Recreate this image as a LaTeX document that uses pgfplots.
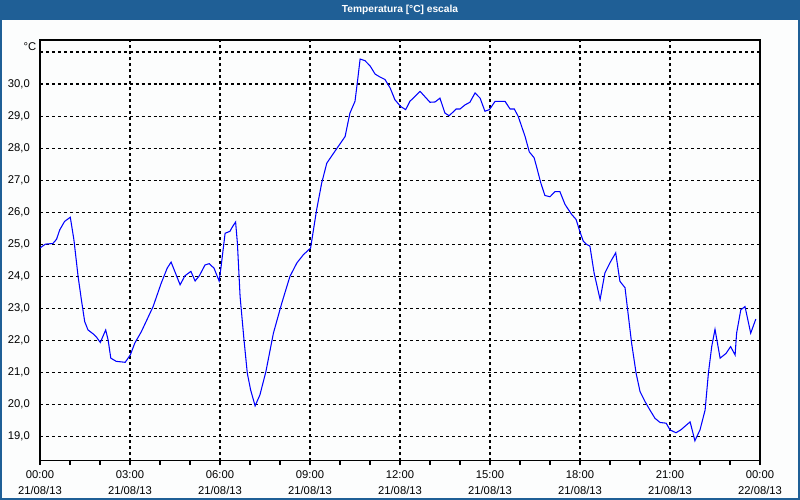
\documentclass[border=0pt]{standalone}
\usepackage{pgfplots}
\pgfplotsset{compat=1.18}
\usepackage{fontspec}
\setmainfont{Liberation Sans}
\definecolor{barcol}{RGB}{31,95,150}
\definecolor{bgcol}{RGB}{252,253,253}
\begin{document}
\begin{tikzpicture}
\useasboundingbox (0,0) rectangle (16,10);
\fill[bgcol] (0,0) rectangle (16,10);
\fill[barcol] (0,9.6) rectangle (16,10);
\draw[barcol, line width=0.04cm] (0.02,9.6) -- (0.02,0.02) -- (15.98,0.02) -- (15.98,9.6);
\node[text=white, font=\fontsize{5.8}{8}\selectfont\bfseries] at (8,9.8) {Temperatura [°C] escala};
\node[anchor=east, inner sep=0pt, font=\fontsize{6.4}{8}\selectfont] at (0.73,9.07) {°C};
\begin{axis}[
  at={(0.8cm,0.786cm)}, anchor=south west,
  scale only axis, width=14.4cm, height=8.414cm,
  xmin=0, xmax=24, ymin=18.2375, ymax=31.375,
  axis line style={black, line width=0.6pt},
  xtick={0,3,...,24},
  minor xtick={0,1,...,24},
  xticklabels={{00:00\\21/08/13},{03:00\\21/08/13},{06:00\\21/08/13},{09:00\\21/08/13},{12:00\\21/08/13},{15:00\\21/08/13},{18:00\\21/08/13},{21:00\\21/08/13},{00:00\\22/08/13}},
  xticklabel style={align=center, font=\fontsize{6.4}{9.1}\selectfont},
  tick align=outside,
  major tick length=0.08cm, minor tick length=0.08cm,
  xtick pos=bottom,
  x tick style={black, line width=0.6pt},
  ytick={19,20,...,31},
  yticklabels={{19,0},{20,0},{21,0},{22,0},{23,0},{24,0},{25,0},{26,0},{27,0},{28,0},{29,0},{30,0},{}},
  yticklabel style={font=\fontsize{6.4}{8}\selectfont},
  y tick style={draw=none},
  xmajorgrids, ymajorgrids,
  major grid style={black, line width=0.6pt, dash pattern=on 1.7pt off 1.7pt},
  clip=true,
]
\addplot[blue, line width=0.6pt, sharp plot] coordinates {
(0.00,24.88) (0.18,25.00) (0.43,25.02) (0.55,25.15) (0.66,25.45) (0.82,25.71)
(1.01,25.84) (1.13,25.14) (1.27,23.99) (1.38,23.26) (1.49,22.58) (1.60,22.32)
(1.77,22.20) (1.88,22.10) (2.01,21.93) (2.19,22.32) (2.27,22.01) (2.36,21.44)
(2.54,21.34) (2.84,21.31) (3.01,21.54) (3.16,21.91) (3.38,22.27) (3.77,23.05)
(4.04,23.78) (4.24,24.25) (4.37,24.44) (4.67,23.73) (4.83,24.01) (5.03,24.15)
(5.17,23.85) (5.31,24.01) (5.50,24.35) (5.64,24.39) (5.80,24.25) (5.97,23.85)
(6.03,24.25) (6.17,25.34) (6.33,25.40) (6.42,25.55) (6.52,25.69) (6.58,25.03)
(6.67,23.36) (6.80,22.01) (6.91,20.97) (7.02,20.45) (7.17,19.95) (7.33,20.29)
(7.53,21.02) (7.78,22.22) (8.06,23.16) (8.33,23.99) (8.56,24.41) (8.78,24.67)
(9.02,24.88) (9.22,26.07) (9.39,26.91) (9.56,27.53) (9.83,27.90) (10.17,28.36)
(10.33,29.09) (10.50,29.46) (10.59,30.14) (10.67,30.78) (10.83,30.73) (11.00,30.57)
(11.17,30.31) (11.33,30.22) (11.50,30.14) (11.67,29.88) (11.83,29.51) (12.02,29.30)
(12.19,29.20) (12.33,29.46) (12.67,29.77) (13.00,29.43) (13.17,29.44) (13.33,29.56)
(13.50,29.09) (13.64,29.01) (13.87,29.22) (14.00,29.22) (14.17,29.35) (14.33,29.43)
(14.50,29.72) (14.67,29.56) (14.83,29.15) (14.98,29.20) (15.17,29.46) (15.50,29.46)
(15.67,29.22) (15.81,29.22) (15.94,28.99) (16.17,28.36) (16.31,27.88) (16.47,27.70)
(16.56,27.39) (16.69,26.92) (16.83,26.52) (17.00,26.48) (17.17,26.64) (17.33,26.64)
(17.50,26.24) (17.72,25.93) (17.87,25.77) (18.00,25.38) (18.11,25.09) (18.22,24.99)
(18.33,24.94) (18.47,24.10) (18.67,23.27) (18.83,24.10) (19.00,24.42) (19.19,24.73)
(19.33,23.84) (19.50,23.64) (19.58,23.01) (19.72,21.91) (19.87,20.97) (20.00,20.40)
(20.17,20.08) (20.33,19.82) (20.50,19.56) (20.67,19.43) (20.87,19.41) (21.00,19.20)
(21.20,19.11) (21.36,19.20) (21.67,19.45) (21.83,18.86) (22.00,19.20) (22.17,19.82)
(22.28,20.97) (22.39,21.80) (22.50,22.34) (22.67,21.44) (22.87,21.59) (23.02,21.80)
(23.17,21.54) (23.22,22.22) (23.36,22.95) (23.50,23.05) (23.69,22.22) (23.86,22.66)
};
\end{axis}
\end{tikzpicture}
\end{document}
